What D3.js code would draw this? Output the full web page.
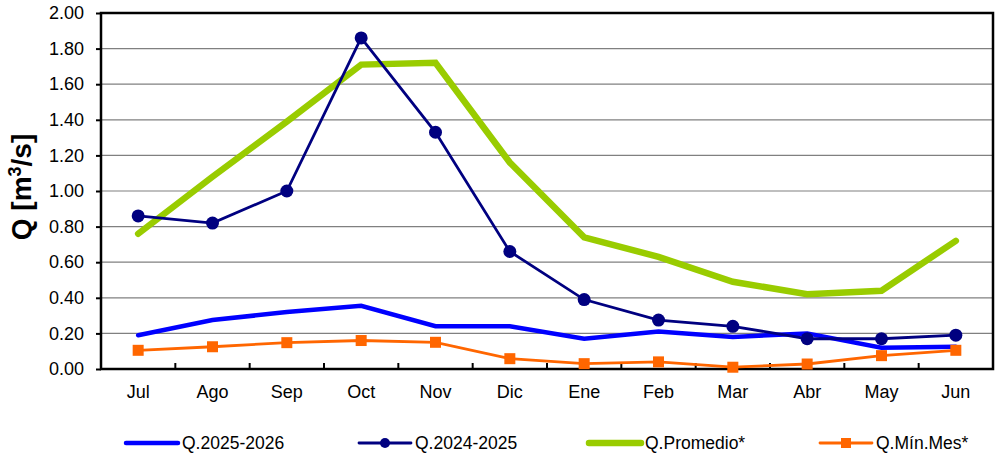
<!DOCTYPE html>
<html><head><meta charset="utf-8">
<script src="https://cdn.jsdelivr.net/npm/d3@7"></script>
<style>body{margin:0;background:#fff}svg{display:block;font-family:"Liberation Sans",Arial,sans-serif}</style>
</head><body><svg id="c" width="998" height="455"></svg>
<script>
const months = ["Jul","Ago","Sep","Oct","Nov","Dic","Ene","Feb","Mar","Abr","May","Jun"];
const q2025 = [0.19,0.275,0.32,0.355,0.24,0.24,0.17,0.21,0.18,0.20,0.12,0.125];
const q2024 = [0.86,0.82,1.00,1.86,1.33,0.66,0.39,0.275,0.24,0.17,0.17,0.19];
const qProm = [0.76,1.08,1.39,1.71,1.72,1.16,0.74,0.63,0.49,0.42,0.44,0.72];
const qMin = [0.105,0.125,0.148,0.16,0.15,0.058,0.03,0.04,0.01,0.028,0.075,0.105];
const yTicks = [0,0.2,0.4,0.6,0.8,1.0,1.2,1.4,1.6,1.8,2.0];

const svg = d3.select("#c");
const L=101,R=993,T=13,B=369;
const x = d3.scaleBand().domain(months).range([L,R]);
const y = d3.scaleLinear().domain([0,2]).range([B,T]);
const cx = m => x(m)+x.bandwidth()/2;

// grid
svg.append("g").selectAll("line").data(yTicks.slice(1)).join("line")
 .attr("x1",L).attr("x2",R).attr("y1",d=>y(d)).attr("y2",d=>y(d))
 .attr("stroke","#808080").attr("stroke-width",1.2);

// y axis
const ya = svg.append("g").attr("transform",`translate(${L},0)`)
 .call(d3.axisLeft(y).tickValues(yTicks).tickFormat(d3.format(".2f")).tickSize(5).tickPadding(12));
ya.select(".domain").remove();
ya.selectAll("line").attr("stroke","#000").attr("stroke-width",2);
ya.selectAll("text").attr("font-size",18).attr("fill","#000").attr("font-family","Liberation Sans, Arial, sans-serif");

// x axis
const xa = svg.append("g").attr("transform",`translate(0,${B})`)
 .call(d3.axisBottom(x).tickSize(0).tickPadding(16));
xa.select(".domain").remove();
xa.selectAll("text").attr("font-size",18).attr("fill","#000").attr("font-family","Liberation Sans, Arial, sans-serif");
svg.append("g").selectAll("line").data(months.slice(1)).join("line")
 .attr("x1",d=>x(d)).attr("x2",d=>x(d)).attr("y1",B).attr("y2",B-6)
 .attr("stroke","#000").attr("stroke-width",2);

// frame
svg.append("rect").attr("x",L).attr("y",T).attr("width",R-L).attr("height",B-T)
 .attr("fill","none").attr("stroke","#000").attr("stroke-width",2.5);

// y title
const yt = svg.append("text").attr("transform","translate(31,187) rotate(-90)")
 .attr("text-anchor","middle").attr("font-size",28).attr("font-weight","bold");
yt.append("tspan").text("Q [m");
yt.append("tspan").text("3").attr("font-size",18).attr("dy",-10);
yt.append("tspan").text("/s]").attr("dy",10);

const line = d3.line().x((d,i)=>cx(months[i])).y(d=>y(d));
const series = [
 {name:"Q.2025-2026", data:q2025, color:"#0000FF", w:4.5, marker:null},
 {name:"Q.2024-2025", data:q2024, color:"#000080", w:2.8, marker:"circle"},
 {name:"Q.Promedio*", data:qProm, color:"#99CC00", w:6.5, marker:null},
 {name:"Q.Mín.Mes*", data:qMin, color:"#FF6600", w:2.8, marker:"square"}
];
const drawOrder=[2,0,1,3];
drawOrder.forEach(k=>{
 const s=series[k];
 svg.append("path").datum(s.data).attr("d",line).attr("fill","none")
  .attr("stroke",s.color).attr("stroke-width",s.w).attr("stroke-linejoin","miter").attr("stroke-linecap","round");
 if(s.marker==="circle"){
  svg.append("g").selectAll("circle").data(s.data).join("circle")
   .attr("cx",(d,i)=>cx(months[i])).attr("cy",d=>y(d)).attr("r",6.5).attr("fill",s.color);
 } else if(s.marker==="square"){
  svg.append("g").selectAll("rect").data(s.data).join("rect")
   .attr("x",(d,i)=>cx(months[i])-5.5).attr("y",d=>y(d)-5.5).attr("width",11).attr("height",11).attr("fill",s.color);
 }
});

// legend
const legX=[126,359,589,820];
const ly=443;
series.forEach((s,i)=>{
 const g=svg.append("g");
 g.append("line").attr("x1",legX[i]).attr("x2",legX[i]+52).attr("y1",ly).attr("y2",ly)
  .attr("stroke",s.color).attr("stroke-width",s.w).attr("stroke-linecap","round");
 if(s.marker==="circle") g.append("circle").attr("cx",legX[i]+26).attr("cy",ly).attr("r",5).attr("fill",s.color);
 if(s.marker==="square") g.append("rect").attr("x",legX[i]+21).attr("y",ly-5).attr("width",10).attr("height",10).attr("fill",s.color);
 g.append("text").attr("x",legX[i]+56).attr("y",ly).attr("dy","0.35em").attr("font-size",17.5).text(s.name);
});
</script></body></html>
